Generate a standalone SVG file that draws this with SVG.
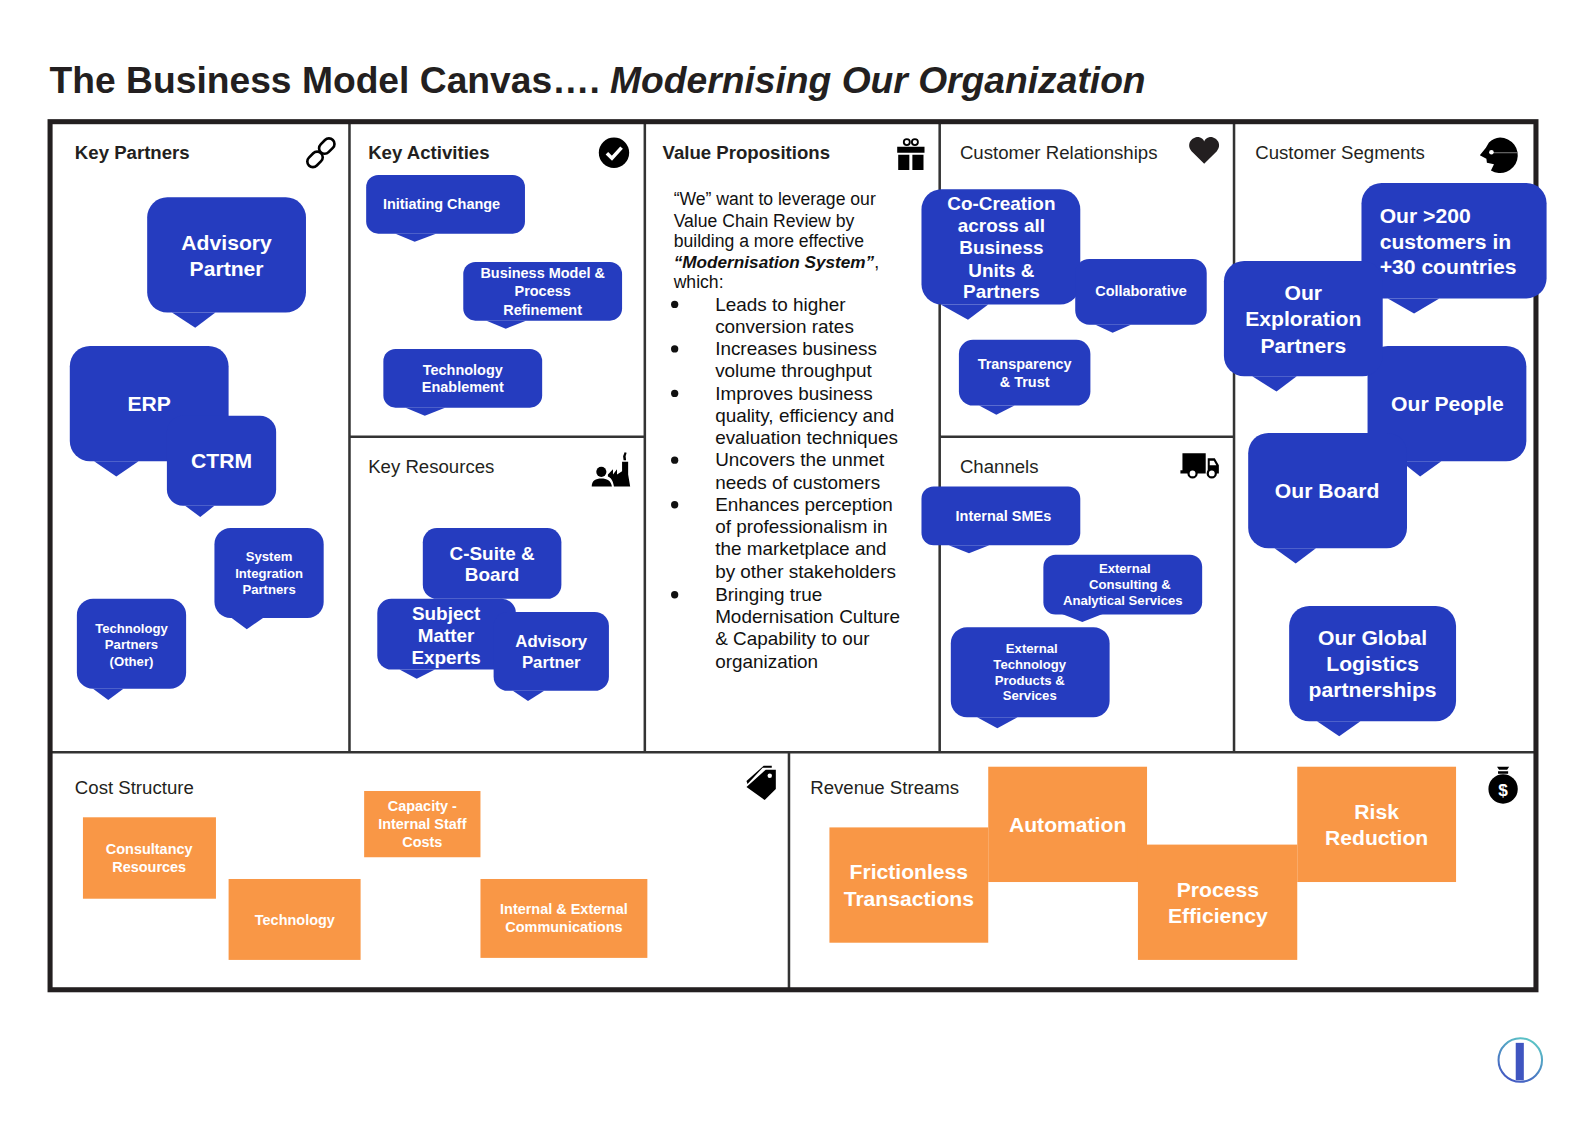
<svg xmlns="http://www.w3.org/2000/svg" width="1586" height="1122" viewBox="0 0 1586 1122">
<style>
text{font-family:"Liberation Sans",Arial,sans-serif;fill:#231f20}
.h{font-size:18.4px}.hb{font-size:18.4px;font-weight:bold}
.b{fill:#253cbf}.o{fill:#f99746}
.t{fill:#fff;font-weight:bold;text-anchor:middle}
.s13{font-size:13px}.s14{font-size:14.3px}.s17{font-size:16.6px}.s19{font-size:18.7px}.s22{font-size:20.9px}
.l{fill:none;stroke:#333;stroke-width:2.5}
.vp{font-size:17.4px;fill:#111}
.li{font-size:18.7px;fill:#111}
.k{fill:#000}
</style>
<defs><linearGradient id="lg" x1="0.8" y1="0" x2="0.3" y2="1"><stop offset="0" stop-color="#5ccac6"/><stop offset="1" stop-color="#4358c2"/></linearGradient></defs>
<rect width="1586" height="1122" fill="#fff"/>
<g transform="scale(1.0115)">
<text x="49" y="92" font-size="36.8" font-weight="bold">The Business Model Canvas…. <tspan font-style="italic">Modernising Our Organization</tspan></text>
<g id="grid">
<path class="l" d="M345.500 120V743.700M637.500 120V743.700M929 120V743.700M1220 120V743.700M50 743.700H1518M345.500 431.700H637.500M929 431.700H1220M780 743.700V978"/>
<rect x="49.500" y="120.300" width="1469" height="858.200" fill="none" stroke="#231f20" stroke-width="5"/>
</g>
<g id="headings">
<text class="hb" x="74" y="157.500">Key Partners</text>
<text class="hb" x="364" y="157.500">Key Activities</text>
<text class="hb" x="655" y="157.500">Value Propositions</text>
<text class="h" x="949" y="157.500">Customer Relationships</text>
<text class="h" x="1241" y="157.500">Customer Segments</text>
<text class="h" x="364" y="467.500">Key Resources</text>
<text class="h" x="949" y="467.500">Channels</text>
<text class="h" x="74" y="784.500">Cost Structure</text>
<text class="h" x="801" y="784.500">Revenue Streams</text>
</g>
<g id="icons">
<g id="icon-link" fill="none" stroke="#000" stroke-width="2.600"><rect x="-5.500" y="-10" width="11" height="17" rx="5.500" transform="translate(322,145.500) rotate(45)"/><rect x="-5.500" y="-7" width="11" height="17" rx="5.500" transform="translate(312.500,156.500) rotate(45)"/></g>
<g id="icon-check"><circle class="k" cx="607" cy="151" r="15"/><path d="M600 151.500L605 156.500L614.500 146" fill="none" stroke="#fff" stroke-width="3.500"/></g>
<g id="icon-gift"><path class="k" d="M887 145H914V151H887ZM888 153H899V168H888ZM902 153H913V168H902Z"/><circle cx="896.500" cy="140.500" r="3" fill="none" stroke="#000" stroke-width="1.800"/><circle cx="904.500" cy="140.500" r="3" fill="none" stroke="#000" stroke-width="1.800"/></g>
<path id="icon-heart" fill="#231f20" d="M1190.500 162L1178 149.500C1172 142 1179 135 1185 135.500C1188 136 1190 138 1190.500 140C1191 138 1193 136 1196 135.500C1202 135 1209 142 1203 149.500Z"/>
<g id="icon-head"><path class="k" d="M1483 136A17.500 17.500 0 1 1 1474 168.500L1477 162.500L1470 161L1469.500 157L1463 153.500L1469 146L1472 141A18 18 0 0 1 1483 136Z"/><circle cx="1474.500" cy="150.500" r="2.300" fill="#fff"/><path d="M1477 151H1500" stroke="#999" stroke-width="0.800"/></g>
<g id="icon-factory"><circle class="k" cx="594.500" cy="466.500" r="5"/><path class="k" d="M585 481C585 475 589 473 594.500 473C600 473 604 475 605 481ZM601 469L606 464V469L610 464V469L615 466V456.500H621V469L623 481H607C606 475 604 472 601 471ZM617.500 447L619.500 447.500L618.500 451L619 455H616.500L616 451Z"/></g>
<g id="icon-truck"><path class="k" d="M1169 448H1192V468H1167V465H1169ZM1194 453H1201L1205 460V468H1194Z"/><circle cx="1179" cy="468" r="4" fill="#fff" stroke="#000" stroke-width="2.200"/><circle cx="1198" cy="468" r="4" fill="#fff" stroke="#000" stroke-width="2.200"/><path d="M1196 455.500H1200L1202.500 460H1196Z" fill="#fff"/></g>
<g id="icon-tag"><path class="k" d="M738 778L757 761H767V780L756 791ZM738 772L755 757H763L763 759H754L739 775Z"/><circle cx="761" cy="767" r="2.200" fill="#fff"/></g>
<g id="icon-bag"><circle class="k" cx="1486" cy="780" r="14.500"/><path class="k" d="M1480 758H1492L1490 761H1482ZM1481 762.500H1491V765H1481Z"/><text x="1486" y="786.500" font-size="17" font-weight="bold" text-anchor="middle" style="fill:#fff">$</text></g>
</g>
<g id="value-propositions">
<text class="vp" x="666" y="203">“We” want to leverage our</text>
<text class="vp" x="666" y="224">Value Chain Review by</text>
<text class="vp" x="666" y="244">building a more effective</text>
<text class="vp" x="666" y="265"><tspan font-weight="bold" font-style="italic" font-size="17">“Modernisation System”</tspan>,</text>
<text class="vp" x="666" y="285">which:</text>
<g fill="#111"><circle cx="667" cy="301" r="3.600"/><circle cx="667" cy="345" r="3.600"/><circle cx="667" cy="389" r="3.600"/><circle cx="667" cy="455" r="3.600"/><circle cx="667" cy="499" r="3.600"/><circle cx="667" cy="588" r="3.600"/></g>
<text class="li" x="707" y="307">Leads to higher</text>
<text class="li" x="707" y="329">conversion rates</text>
<text class="li" x="707" y="351">Increases business</text>
<text class="li" x="707" y="373">volume throughput</text>
<text class="li" x="707" y="395">Improves business</text>
<text class="li" x="707" y="417">quality, efficiency and</text>
<text class="li" x="707" y="439">evaluation techniques</text>
<text class="li" x="707" y="461">Uncovers the unmet</text>
<text class="li" x="707" y="483">needs of customers</text>
<text class="li" x="707" y="505">Enhances perception</text>
<text class="li" x="707" y="527">of professionalism in</text>
<text class="li" x="707" y="549">the marketplace and</text>
<text class="li" x="707" y="571">by other stakeholders</text>
<text class="li" x="707" y="594">Bringing true</text>
<text class="li" x="707" y="616">Modernisation Culture</text>
<text class="li" x="707" y="638">&amp; Capability to our</text>
<text class="li" x="707" y="660">organization</text>
</g>
<g id="advisory-partner-1"><rect class="b" x="145.500" y="195" width="157" height="114" rx="20"/><polygon class="b" points="170,309 193,324 213,309"/><text class="t s22"><tspan x="224" y="247.500">Advisory</tspan><tspan x="224" y="272.500">Partner</tspan></text></g>
<g id="erp"><rect class="b" x="69" y="342" width="157" height="114" rx="20"/><polygon class="b" points="93,456 115,471 137,456"/><text class="t s22" x="147.500" y="406.500">ERP</text></g>
<g id="ctrm"><rect class="b" x="165" y="411" width="108" height="89" rx="16"/><polygon class="b" points="183,500 198,511 212,500"/><text class="t s22" x="219" y="462.500">CTRM</text></g>
<g id="system-integration"><rect class="b" x="212" y="522" width="108" height="89" rx="16"/><polygon class="b" points="229,611 244,622 260,611"/><text class="t s13"><tspan x="266" y="555">System</tspan><tspan x="266" y="571">Integration</tspan><tspan x="266" y="587">Partners</tspan></text></g>
<g id="technology-partners"><rect class="b" x="76" y="592" width="108" height="89" rx="16"/><polygon class="b" points="92,681 107,692 122,681"/><text class="t s13"><tspan x="130" y="626">Technology</tspan><tspan x="130" y="642">Partners</tspan><tspan x="130" y="658">(Other)</tspan></text></g>
<g id="initiating-change"><rect class="b" x="362" y="173" width="157" height="58" rx="12"/><polygon class="b" points="391,231 410,239 431,231"/><text class="t s14" x="436.500" y="207">Initiating Change</text></g>
<g id="business-model"><rect class="b" x="458" y="259" width="157" height="58" rx="12"/><polygon class="b" points="481,317 500,325 520,317"/><text class="t s14"><tspan x="536.500" y="275">Business Model &amp;</tspan><tspan x="536.500" y="293">Process</tspan><tspan x="536.500" y="311">Refinement</tspan></text></g>
<g id="technology-enablement"><rect class="b" x="379" y="345" width="157" height="58" rx="12"/><polygon class="b" points="401,403 420,411 440,403"/><text class="t s14"><tspan x="457.500" y="371">Technology</tspan><tspan x="457.500" y="388">Enablement</tspan></text></g>
<g id="c-suite"><rect class="b" x="418" y="522" width="137" height="70" rx="14"/><text class="t s19"><tspan x="486.500" y="553.500">C-Suite &amp;</tspan><tspan x="486.500" y="574.500">Board</tspan></text></g>
<g id="subject-matter"><rect class="b" x="373" y="592" width="137" height="70" rx="14"/><polygon class="b" points="395,662 412,671 430,662"/><text class="t s19"><tspan x="441" y="612.500">Subject</tspan><tspan x="441" y="634.500">Matter</tspan><tspan x="441" y="656.500">Experts</tspan></text></g>
<g id="advisory-partner-2"><rect class="b" x="488" y="605" width="114" height="78" rx="14"/><polygon class="b" points="507,683 522,693 538,683"/><text class="t s17"><tspan x="545" y="639.500">Advisory</tspan><tspan x="545" y="660.500">Partner</tspan></text></g>
<g id="co-creation"><rect class="b" x="911" y="187" width="157" height="114" rx="20"/><polygon class="b" points="930,301 957,316 977,301"/><text class="t s19"><tspan x="990" y="207.500">Co-Creation</tspan><tspan x="990" y="229.500">across all</tspan><tspan x="990" y="251.500">Business</tspan><tspan x="990" y="273.500">Units &amp;</tspan><tspan x="990" y="294.500">Partners</tspan></text></g>
<g id="collaborative"><rect class="b" x="1063" y="256" width="130" height="65" rx="14"/><polygon class="b" points="1083,321 1100,329 1118,321"/><text class="t s14" x="1128" y="293">Collaborative</text></g>
<g id="transparency"><rect class="b" x="948" y="336" width="130" height="65" rx="14"/><polygon class="b" points="968,401 985,410 1003,401"/><text class="t s14"><tspan x="1013" y="365">Transparency</tspan><tspan x="1013" y="383">&amp; Trust</tspan></text></g>
<g id="internal-smes"><rect class="b" x="911" y="481" width="157" height="58" rx="12"/><polygon class="b" points="938,539 958,547 978,539"/><text class="t s14" x="992" y="515">Internal SMEs</text></g>
<g id="external-consulting"><rect class="b" x="1031.500" y="548.500" width="157" height="59" rx="12"/><polygon class="b" points="1050,607 1070,615 1090,607"/><text class="t s13"><tspan x="1112" y="566.500">External</tspan><tspan x="1117" y="582.500">Consulting &amp;</tspan><tspan x="1110" y="598.500">Analytical Services</tspan></text></g>
<g id="external-technology"><rect class="b" x="940" y="620" width="157" height="89" rx="16"/><polygon class="b" points="966,709 986,720 1006,709"/><text class="t s13"><tspan x="1020" y="645.500">External</tspan><tspan x="1018" y="661.500">Technology</tspan><tspan x="1018" y="677.500">Products &amp;</tspan><tspan x="1018" y="692.500">Services</tspan></text></g>
<g id="our-200"><rect class="b" x="1346" y="181" width="183" height="114" rx="20"/><polygon class="b" points="1372,295 1398,310 1423,295"/><text class="s22" style="fill:#fff;font-weight:bold"><tspan x="1364" y="220">Our &gt;200</tspan><tspan x="1364" y="246">customers in</tspan><tspan x="1364" y="271">+30 countries</tspan></text></g>
<g id="our-people"><rect class="b" x="1352" y="342" width="157" height="114" rx="20"/><polygon class="b" points="1385,456 1404,471 1425,456"/><text class="t s22" x="1431" y="406.500">Our People</text></g>
<g id="our-exploration"><rect class="b" x="1210" y="258" width="157" height="114" rx="20"/><polygon class="b" points="1238,372 1262,387 1282,372"/><text class="t s22"><tspan x="1288.500" y="296.500">Our</tspan><tspan x="1288.500" y="322.500">Exploration</tspan><tspan x="1288.500" y="348.500">Partners</tspan></text></g>
<g id="our-board"><rect class="b" x="1234" y="428" width="157" height="114" rx="20"/><polygon class="b" points="1260,542 1281,557 1301,542"/><text class="t s22" x="1312" y="492.500">Our Board</text></g>
<g id="our-global"><rect class="b" x="1274.500" y="599" width="165" height="114" rx="20"/><polygon class="b" points="1302,713 1324,728 1345,713"/><text class="t s22"><tspan x="1357" y="637.500">Our Global</tspan><tspan x="1357" y="663.500">Logistics</tspan><tspan x="1357" y="689.500">partnerships</tspan></text></g>
<g id="consultancy"><rect class="o" x="82" y="808" width="131.500" height="80.500"/><text class="t s14"><tspan x="147.500" y="844">Consultancy</tspan><tspan x="147.500" y="862">Resources</tspan></text></g>
<g id="technology-cost"><rect class="o" x="226" y="869" width="130.500" height="80"/><text class="t s14" x="291.500" y="914">Technology</text></g>
<g id="capacity"><rect class="o" x="360" y="782" width="115" height="65.500"/><text class="t s14"><tspan x="417.500" y="802">Capacity -</tspan><tspan x="417.500" y="820">Internal Staff</tspan><tspan x="417.500" y="837">Costs</tspan></text></g>
<g id="communications"><rect class="o" x="475" y="869" width="165" height="78"/><text class="t s14"><tspan x="557.500" y="904">Internal &amp; External</tspan><tspan x="557.500" y="921">Communications</tspan></text></g>
<g id="frictionless"><rect class="o" x="820" y="818" width="157" height="114"/><text class="t s22"><tspan x="898.500" y="869.500">Frictionless</tspan><tspan x="898.500" y="895.500">Transactions</tspan></text></g>
<g id="automation"><rect class="o" x="977" y="758" width="157" height="114"/><text class="t s22" x="1055.500" y="822.500">Automation</text></g>
<g id="process-efficiency"><rect class="o" x="1125" y="835" width="157.500" height="114"/><text class="t s22"><tspan x="1204" y="887">Process</tspan><tspan x="1204" y="912.500">Efficiency</tspan></text></g>
<g id="risk-reduction"><rect class="o" x="1282.500" y="758" width="157" height="114"/><text class="t s22"><tspan x="1361" y="809.500">Risk</tspan><tspan x="1361" y="835.500">Reduction</tspan></text></g>
<g id="logo"><circle cx="1503" cy="1048" r="21.500" fill="none" stroke="url(#lg)" stroke-width="2"/><rect x="1498.500" y="1031" width="8" height="37" fill="#3f55c0"/></g>
</g>
</svg>
